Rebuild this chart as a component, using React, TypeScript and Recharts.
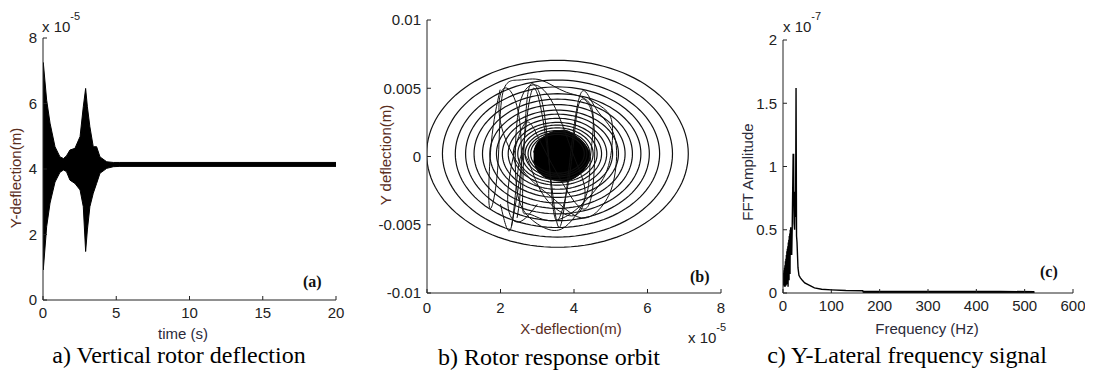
import React from "react";
import { ComposedChart, Line, Area, XAxis, YAxis } from "recharts";

// (a) vertical deflection: envelope of the fast oscillation, in 1e-5 m
const timeS = [0, 0.02, 0.25, 0.48, 0.82, 1.16, 1.4, 1.6, 1.84, 2.18, 2.53, 2.75, 2.91, 3.03, 3.2, 3.43, 3.66, 3.89, 4.35, 4.8, 5.2, 20];
const defUpper = [4.3, 7.25, 6.1, 5.4, 4.68, 4.37, 4.32, 4.4, 4.58, 4.63, 4.99, 5.9, 6.46, 5.9, 5.29, 4.68, 4.68, 4.37, 4.22, 4.2, 4.2, 4.2];
const defLower = [4.0, 0.92, 2.24, 2.96, 3.6, 3.9, 3.97, 3.92, 3.66, 3.56, 3.36, 2.85, 1.48, 2.14, 2.85, 3.26, 3.56, 3.87, 4.02, 4.07, 4.08, 4.08];

// (b) orbit: spiral turns as ellipses around the settled centre
const orbitCenterX = 3.55;
const orbitCenterY = 0.0002;
const ringSemiX = [3.56, 3.13, 2.78, 2.5, 2.27, 2.04, 1.84, 1.66, 1.5, 1.34, 1.2, 1.08, 0.97, 0.88, 0.8, 0.73];
const ringSemiY = [0.00685, 0.0061, 0.0054, 0.0049, 0.0044, 0.004, 0.0036, 0.0032, 0.0029, 0.0026, 0.0023, 0.0021, 0.0019, 0.0017, 0.00156, 0.00142];

// transient loops crossing the rings
const loopAX = [1.99, 1.75, 1.7, 1.92, 2.05, 2.5, 3.1, 3.8, 4.48, 4.45, 4.35, 3.9, 3.39, 2.8, 2.45, 2.42, 2.6, 3.0, 3.5, 4.0, 4.3, 4.1, 3.6, 3.0, 2.55, 2.3, 2.0];
const loopAY = [0.0049, 0.001, -0.0037, -0.001, 0.0045, 0.0056, 0.0056, 0.0047, 0.0036, 0.0, -0.0027, -0.0048, -0.0054, -0.0045, -0.0025, 0.0015, 0.0045, 0.0052, 0.0035, 0.0, -0.0025, -0.0042, -0.004, -0.002, 0.0, -0.0051, -0.0035];
const loopBX = [2.3, 2.6, 2.9, 3.3, 3.6, 3.9, 4.2, 4.6, 5.1, 5.1, 4.8, 4.2, 3.4, 2.6, 2.0, 2.1, 2.5, 2.55, 2.45];
const loopBY = [-0.0051, 0.0, 0.005, 0.0, -0.0052, 0.0, 0.0047, 0.0035, 0.0015, -0.0015, -0.0035, -0.0045, -0.003, -0.001, 0.0025, 0.005, 0.003, -0.002, -0.0045];
const loopCX = [3.0, 2.5, 2.2, 2.35, 2.7, 3.1, 3.7, 4.2, 4.5, 4.55, 4.35, 4.1, 3.9, 3.6, 3.4, 3.2, 2.9, 2.7, 2.6, 2.75, 3.3, 3.9, 4.4, 4.9, 5.05, 4.9, 4.4];
const loopCY = [-0.0035, -0.0048, -0.0035, 0.0, 0.0025, 0.001, -0.002, -0.0038, -0.0025, 0.002, 0.004, 0.0035, -0.001, -0.0045, -0.003, 0.003, 0.0053, 0.0035, -0.003, -0.0042, -0.0047, -0.0042, -0.003, -0.001, 0.0018, 0.0033, 0.0042];

// dense core of the orbit
const coreX = [2.9, 3.0, 3.2, 3.4, 3.6, 3.8, 4.0, 4.2, 4.35, 4.45];
const coreHi = [0.0003, 0.001, 0.0015, 0.0018, 0.0019, 0.0019, 0.0016, 0.0012, 0.0007, 0.0001];
const coreLo = [-0.0003, -0.001, -0.0015, -0.0017, -0.0018, -0.0018, -0.0016, -0.0012, -0.0007, -0.0001];

// (c) FFT amplitude, in 1e-7
const fftFreq = [0, 0.5, 1, 1.5, 2, 2.5, 3, 3.5, 4, 4.5, 5, 5.5, 6, 6.5, 7, 7.5, 8, 8.5, 9, 9.5, 10, 10.5, 11, 11.5, 12, 12.5, 13, 13.5, 14, 14.5, 15, 15.5, 16, 16.5, 17, 18, 19, 20, 21, 21.5, 22, 22.5, 23, 24, 25, 26, 27, 28, 29, 30, 31, 33, 36, 40, 45, 55, 65, 80, 100, 130, 165, 166, 250, 350, 450, 520];
const fftAmp = [0.13, 0.08, 0.16, 0.06, 0.18, 0.05, 0.2, 0.07, 0.22, 0.05, 0.25, 0.08, 0.27, 0.06, 0.3, 0.1, 0.33, 0.07, 0.35, 0.12, 0.37, 0.05, 0.4, 0.15, 0.42, 0.1, 0.45, 0.2, 0.47, 0.15, 0.5, 0.3, 0.52, 0.35, 0.45, 0.3, 0.5, 0.8, 1.1, 0.9, 1.1, 0.7, 0.55, 0.5, 0.8, 0.6, 1.62, 0.45, 0.4, 0.3, 0.2, 0.14, 0.12, 0.1, 0.08, 0.06, 0.04, 0.03, 0.025, 0.02, 0.018, 0.008, 0.008, 0.007, 0.007, 0.006];

const deflData = timeS.map((t, i) => ({ t, band: [defLower[i], defUpper[i]] }));
const coreData = coreX.map((x, i) => ({ x, band: [coreLo[i], coreHi[i]] }));
const toPts = (xs: number[], ys: number[]) => xs.map((x, i) => ({ x, y: ys[i] }));
const loops = [toPts(loopAX, loopAY), toPts(loopBX, loopBY), toPts(loopCX, loopCY)];
const fftData = fftFreq.map((f, i) => ({ f, amp: fftAmp[i] }));
const fftTail = fftData.filter((d) => d.f >= 166);

const ringPoints = (a: number, b: number) =>
  Array.from({ length: 121 }, (_, k) => {
    const th = (k / 120) * 2 * Math.PI;
    return { x: orbitCenterX + a * Math.cos(th), y: orbitCenterY + b * Math.sin(th) };
  });

const sans = "'Liberation Sans', Arial, sans-serif";
const serif = "'Liberation Serif', 'Times New Roman', serif";
const tickStyle = { fontSize: 15, fill: "#222", fontFamily: sans };
const axisStroke = { stroke: "#222", strokeWidth: 1 };

// MATLAB-style closed box: ticks point inward on all four sides
function boxAxes(dataKey: string, xDomain: number[], xTicks: number[], xMargin: number, yDomain: number[], yTicks: number[], yWidth: number) {
  const common = { type: "number" as const, interval: 0, allowDataOverflow: true, tickSize: -4, axisLine: axisStroke, tickLine: axisStroke };
  return [
    <XAxis key="xb" {...common} dataKey={dataKey} domain={xDomain} ticks={xTicks} tickMargin={xMargin} height={20} tick={tickStyle} />,
    <XAxis key="xt" {...common} xAxisId="top" orientation="top" dataKey={dataKey} domain={xDomain} ticks={xTicks} height={0} tick={false} />,
    <YAxis key="yl" {...common} domain={yDomain} ticks={yTicks} tickMargin={10} width={yWidth} tick={tickStyle} />,
    <YAxis key="yr" {...common} yAxisId="right" orientation="right" domain={yDomain} ticks={yTicks} width={0} tick={false} />,
  ];
}

function Exponent({ x, y, p }: { x: number; y: number; p: string }) {
  return (
    <text x={x} y={y} fontFamily={sans} fontSize={15} fill="#222">
      x 10<tspan dy={-12} fontSize={11}>{p}</tspan>
    </text>
  );
}

export default function App() {
  return (
    <div style={{ position: "absolute", left: 0, top: 0, width: 1096, height: 375, background: "#fff" }}>
      {/* (a) vertical rotor deflection */}
      <div style={{ position: "absolute", left: 0, top: 0 }}>
        <ComposedChart width={345} height={340} data={deflData} margin={{ top: 38, right: 9, bottom: 20, left: 13 }}>
          {boxAxes("t", [0, 20], [0, 5, 10, 15, 20], 11, [0, 8], [0, 2, 4, 6, 8], 30)}
          <Area dataKey="band" type="linear" stroke="#000" strokeWidth={1} fill="#000" fillOpacity={1} dot={false} isAnimationActive={false} />
        </ComposedChart>
      </div>

      {/* (b) rotor response orbit */}
      <div style={{ position: "absolute", left: 360, top: 0 }}>
        <ComposedChart width={370} height={320} margin={{ top: 20, right: 9, bottom: 7, left: 12 }}>
          {boxAxes("x", [0, 8], [0, 2, 4, 6, 8], 13, [-0.01, 0.01], [-0.01, -0.005, 0, 0.005, 0.01], 55)}
          {ringSemiX.map((a, i) => (
            <Line key={`ring-${i}`} data={ringPoints(a, ringSemiY[i])} dataKey="y" type="linear" stroke="#111"
              strokeWidth={1.2} dot={false} isAnimationActive={false} />
          ))}
          {loops.map((pts, i) => (
            <Line key={`loop-${i}`} data={pts} dataKey="y" type="natural" stroke="#111" strokeWidth={1} dot={false} isAnimationActive={false} />
          ))}
          <Area data={coreData} dataKey="band" type="natural" stroke="#000" fill="#000" fillOpacity={1} dot={false} isAnimationActive={false} />
        </ComposedChart>
      </div>

      {/* (c) Y-lateral frequency signal */}
      <div style={{ position: "absolute", left: 740, top: 0 }}>
        <ComposedChart width={345} height={320} data={fftData} margin={{ top: 40, right: 12, bottom: 7, left: 13 }}>
          {boxAxes("f", [0, 600], [0, 100, 200, 300, 400, 500, 600], 11, [0, 2], [0, 0.5, 1, 1.5, 2], 30)}
          <Line dataKey="amp" type="linear" stroke="#000" strokeWidth={1.4} dot={false} isAnimationActive={false} />
          <Line data={fftTail} dataKey="amp" type="linear" stroke="#000" strokeWidth={2.6} dot={false} isAnimationActive={false} />
        </ComposedChart>
      </div>

      {/* axis titles, exponents, panel tags and captions */}
      <svg width={1096} height={375} style={{ position: "absolute", left: 0, top: 0, pointerEvents: "none" }}>
        <Exponent x={42} y={32} p="-5" />
        <text x={183} y={339} textAnchor="middle" fontFamily={sans} fontSize={15} fill="#2b2b3a">time (s)</text>
        <text x={21} y={178} textAnchor="middle" fontFamily={sans} fontSize={15} fill="#5a2e1e" transform="rotate(-90 21 178)">Y-deflection(m)</text>
        <text x={303} y={287} fontFamily={serif} fontWeight="bold" fontSize={16} fill="#111">(a)</text>
        <text x={179} y={363} textAnchor="middle" fontFamily={serif} fontSize={24} fill="#000">a) Vertical rotor deflection</text>

        <text x={571} y={334} textAnchor="middle" fontFamily={sans} fontSize={15} fill="#5a2e1e">X-deflection(m)</text>
        <Exponent x={688} y={343} p="-5" />
        <text x={391} y={155} textAnchor="middle" fontFamily={sans} fontSize={15} fill="#5a2e1e" transform="rotate(-90 391 155)">Y deflection(m)</text>
        <text x={690} y={282} fontFamily={serif} fontWeight="bold" fontSize={16} fill="#111">(b)</text>
        <text x={549} y={365} textAnchor="middle" fontFamily={serif} fontSize={24} fill="#000">b) Rotor response orbit</text>

        <Exponent x={783} y={32} p="-7" />
        <text x={927} y={334} textAnchor="middle" fontFamily={sans} fontSize={15} fill="#2b2b3a">Frequency (Hz)</text>
        <text x={753} y={172} textAnchor="middle" fontFamily={sans} fontSize={15} fill="#2b2b3a" transform="rotate(-90 753 172)">FFT Amplitude</text>
        <text x={1040} y={277} fontFamily={serif} fontWeight="bold" fontSize={16} fill="#111">(c)</text>
        <text x={907} y={363} textAnchor="middle" fontFamily={serif} fontSize={24} fill="#000">c) Y-Lateral frequency signal</text>
      </svg>
    </div>
  );
}
